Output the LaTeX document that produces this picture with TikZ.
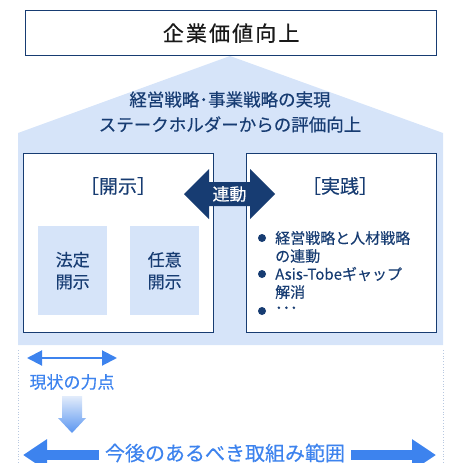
\documentclass[tikz,border=0pt]{standalone}
\usepackage{fontspec}
\setmainfont{Noto Sans CJK JP}[FakeBold=0.35]
\newfontfamily\titlefont{Noto Sans CJK JP}[FakeBold=0.5,LetterSpace=10]
\usetikzlibrary{arrows.meta}
\definecolor{navy}{HTML}{173C72}
\definecolor{lightfill}{HTML}{D6E4F9}
\definecolor{midblue}{HTML}{3D83EE}
\definecolor{dotc}{HTML}{B8C8E0}
\tikzset{
  box/.style={draw=navy,line width=1.2pt,fill=white},
  subbox/.style={fill=lightfill,draw=none},
  txt/.style={text=navy,inner sep=0pt,align=center},
  bul/.style={text=navy,inner sep=0pt,anchor=west,font=\fontsize{15}{16}\selectfont},
  dotmark/.style={fill=navy,draw=none,circle,inner sep=0pt,minimum size=8pt},
}
\begin{document}
\begin{tikzpicture}[x=1pt,y=-1pt]
\clip (0,0) rectangle (448,463);
\useasboundingbox (0,0) rectangle (448,463);
% house
\path[fill=lightfill] (18,133) -- (230,56) -- (443,133) -- (443,345) -- (18,345) -- cycle;
% title
\node[box,minimum width=411pt,minimum height=45pt,anchor=north west,inner sep=0pt,
  font=\titlefont\fontsize{21}{22}\selectfont,text=black!90] (title) at (25,10) {企業価値向上};
% house text
\node[txt,font=\fontsize{17.5}{25}\selectfont] (goal) at (230,112) {経営戦略･事業戦略の実現\\ステークホルダーからの評価向上};
% left box
\node[box,minimum width=190pt,minimum height=179pt,anchor=north west] (kaiji) at (23,153) {};
\node[txt,font=\fontsize{19}{20}\selectfont] (kaijit) at (118,186) {［開示］};
\node[subbox,minimum width=69pt,minimum height=89pt,anchor=north west] (hotei) at (38,226) {};
\node[txt,font=\fontsize{17}{22}\selectfont] at (hotei) {法定\\開示};
\node[subbox,minimum width=69pt,minimum height=89pt,anchor=north west] (nini) at (130,226) {};
\node[txt,font=\fontsize{17}{22}\selectfont] at (nini) {任意\\開示};
% right box
\node[box,minimum width=190pt,minimum height=179pt,anchor=north west] (jissen) at (246,153) {};
\node[txt,font=\fontsize{19}{20}\selectfont] (jissent) at (340,186) {［実践］};
\node[dotmark] (b1) at (262,238) {};
\node[bul] (t1) at (275,238) {経営戦略と人材戦略};
\node[bul] (t1b) at (275,256) {の連動};
\node[dotmark] (b2) at (262,274) {};
\node[bul] (t2) at (275,274) {Asis-Tobeギャップ};
\node[bul] (t2b) at (275,292) {解消};
\node[dotmark] (b3) at (262,311) {};
\node[bul] (t3) at (275,310) {･･･};
% link arrow
\fill[navy] (184,194) -- (209,169) -- (209,182) -- (250,182) -- (250,169) -- (275,194)
  -- (250,219) -- (250,206) -- (209,206) -- (209,219) -- cycle;
\node[txt,text=white,font=\fontsize{17}{18}\selectfont] (rendo) at (229.5,194) {連動};
% dotted sides
\draw[dotc,dotted,line width=0.8pt] (18,350) -- (18,463);
\draw[dotc,dotted,line width=0.8pt] (443,350) -- (443,463);
% current focus
\coordinate (sl) at (27,358);
\coordinate (sr) at (117,358);
\draw[midblue,line width=2pt,{Triangle[length=15pt,width=15pt]}-{Triangle[length=15pt,width=15pt]}] (sl) -- (sr);
\node[txt,text=midblue,font=\fontsize{17}{18}\selectfont] (genjo) at (72,382) {現状の力点};
% gradient down arrow
\shade[top color=lightfill!70!white,bottom color=midblue!85!white]
  (62,396) -- (82,396) -- (82,418) -- (86,418) -- (72,433) -- (58,418) -- (62,418) -- cycle;
% big arrow
\coordinate (bl) at (23,455);
\coordinate (br) at (436,455);
\draw[midblue,line width=10pt,{Triangle[length=24pt,width=30pt]}-{Triangle[length=24pt,width=30pt]}] (bl) -- (br);
\node[txt,text=midblue,fill=white,inner xsep=6pt,inner ysep=3pt,font=\fontsize{20}{21}\selectfont] (scope) at (225,453) {今後のあるべき取組み範囲};
\end{tikzpicture}
\end{document}
